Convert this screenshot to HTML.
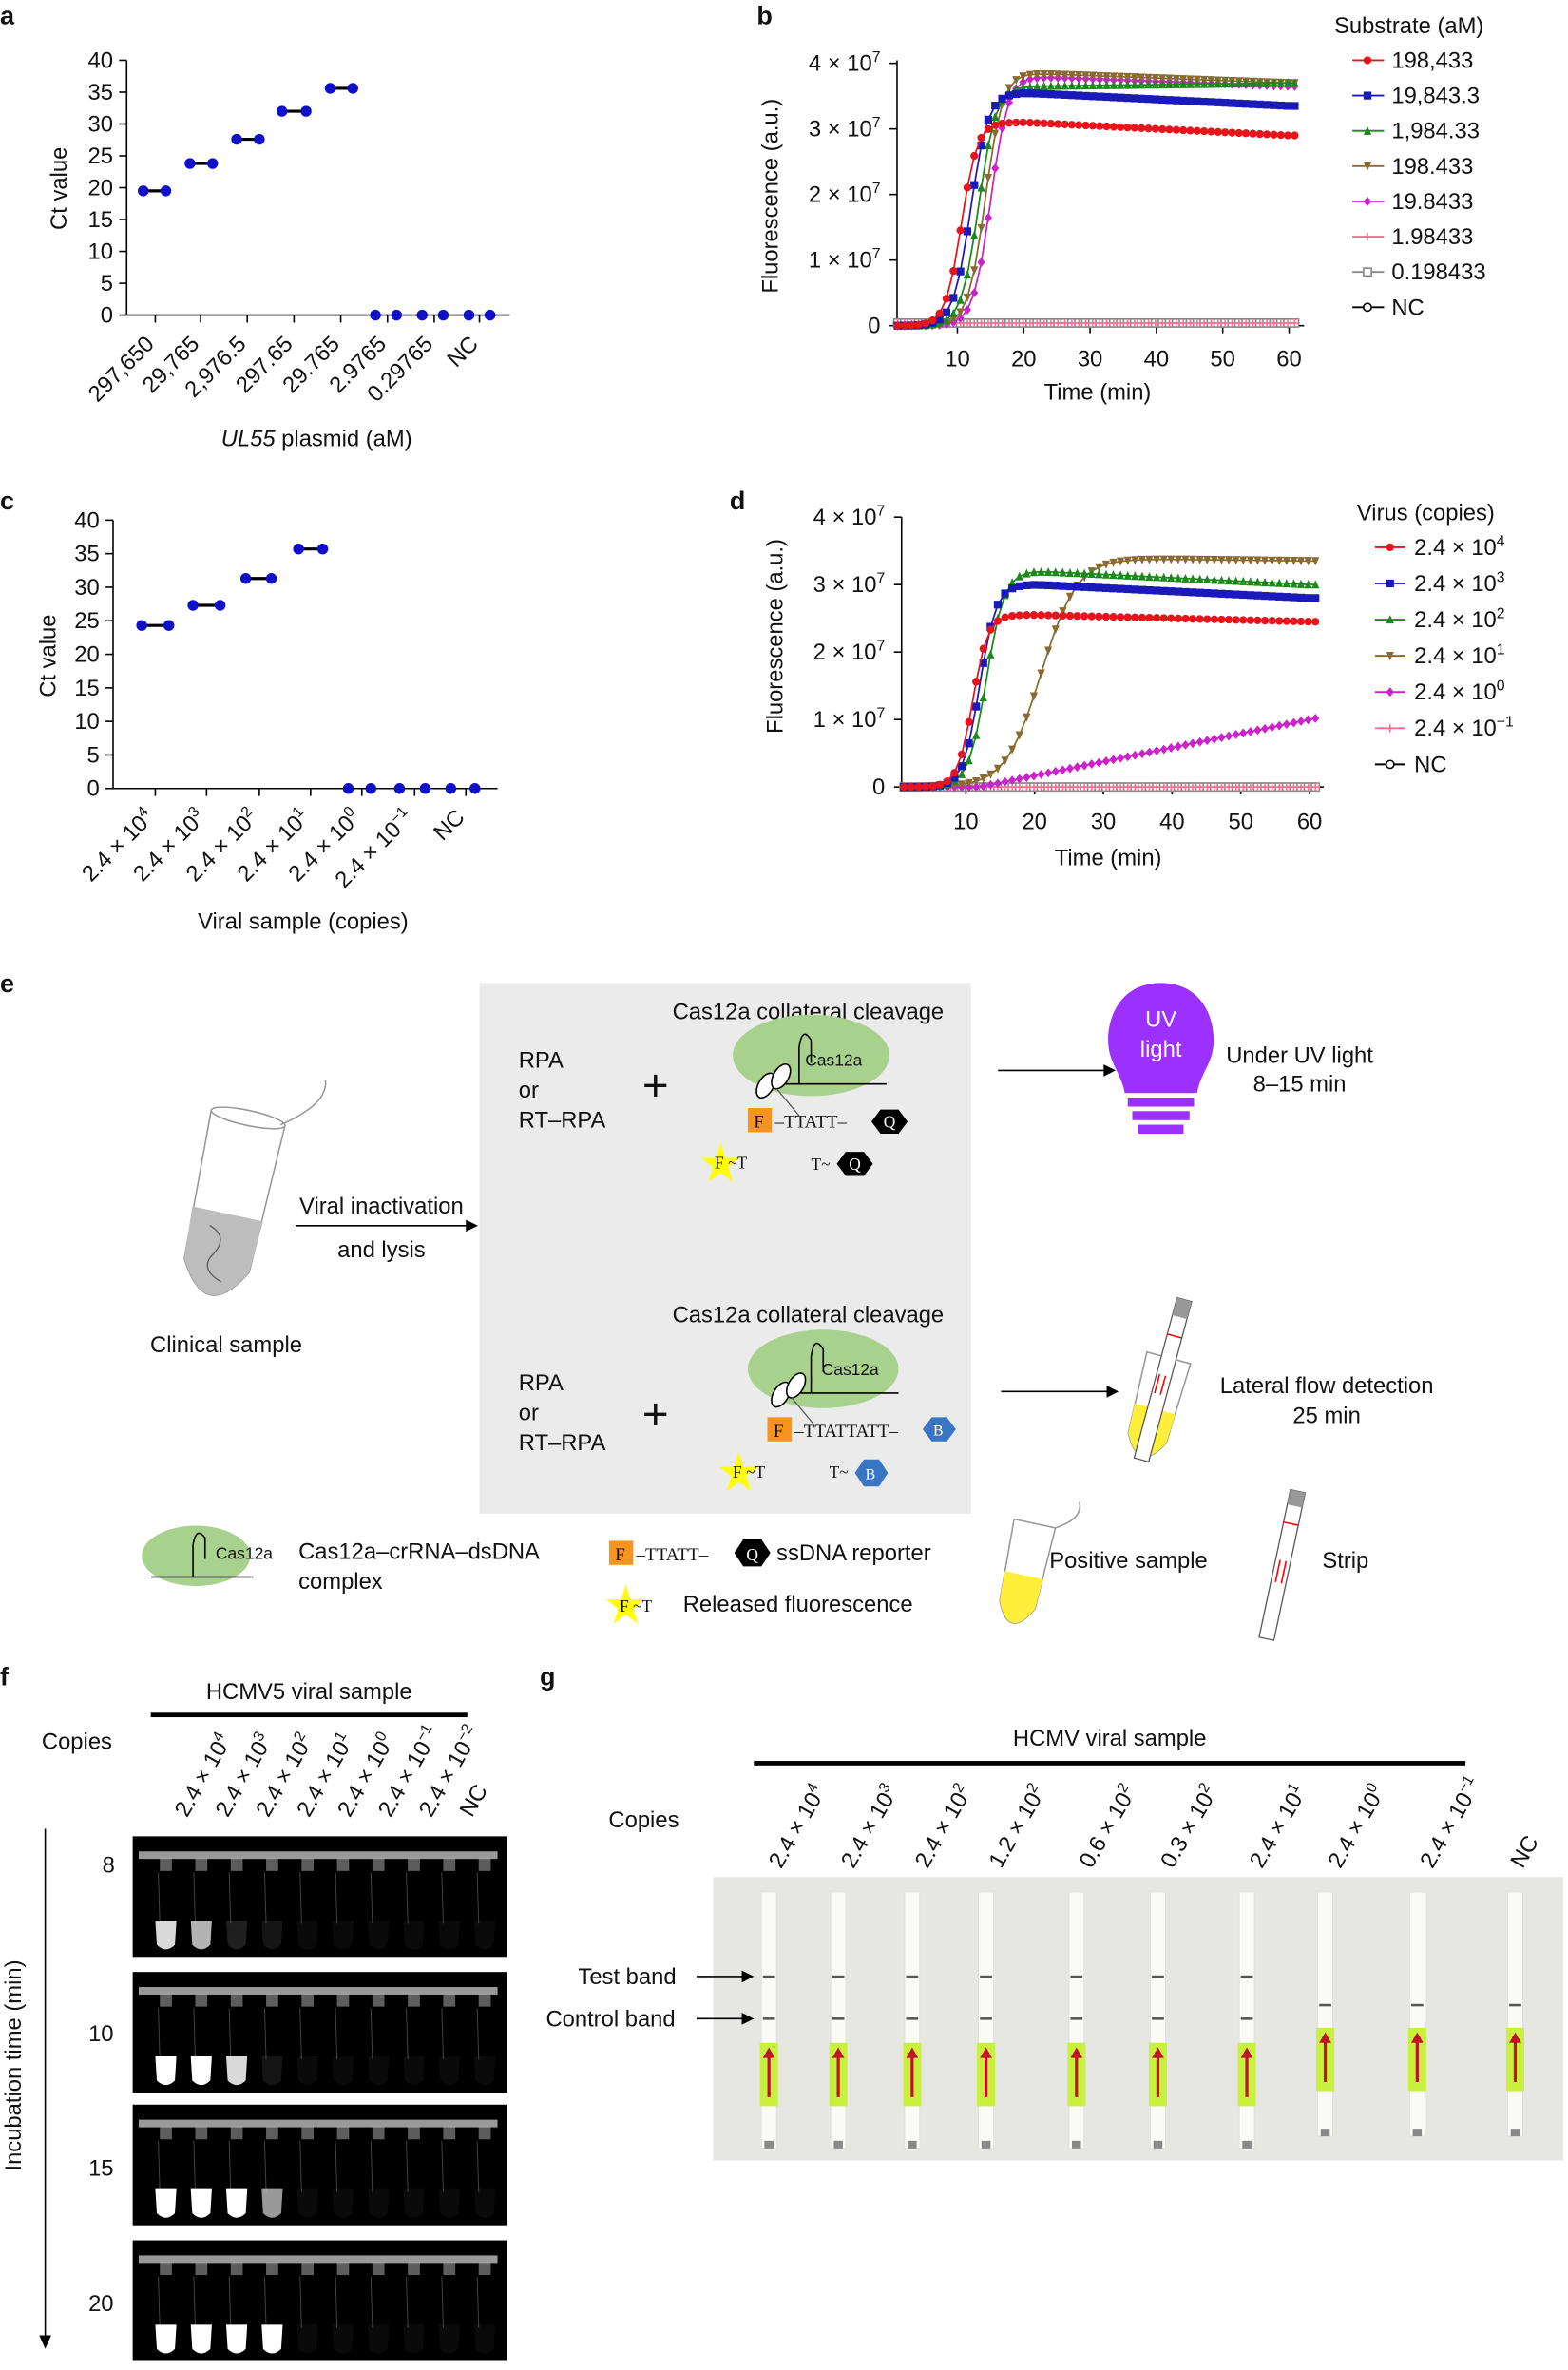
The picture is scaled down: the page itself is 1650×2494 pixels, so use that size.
<!DOCTYPE html>
<html><head><meta charset="utf-8"><style>
html,body{margin:0;padding:0;background:#fff;}
svg{display:block;font-family:"Liberation Sans",Arial,sans-serif;}
text{fill:#111;}
</style></head><body>
<svg id="s" width="1650" height="2494" viewBox="0 0 1040 1572" xmlns="http://www.w3.org/2000/svg">
<g font-size="15">
<text x="0" y="16" font-weight="bold" font-size="17">a</text>
<text x="502" y="16" font-weight="bold" font-size="17">b</text>
<text x="0" y="338" font-weight="bold" font-size="17">c</text>
<text x="484" y="338" font-weight="bold" font-size="17">d</text>
<text x="0" y="658" font-weight="bold" font-size="17">e</text>
<text x="0" y="1118" font-weight="bold" font-size="17">f</text>
<text x="358" y="1118" font-weight="bold" font-size="17">g</text>

<g stroke="#000" stroke-width="1">
<line x1="84" y1="40" x2="84" y2="209"/><line x1="84" y1="209" x2="338" y2="209"/>
</g>
<text x="44" y="125" text-anchor="middle" transform="rotate(-90 44 125)">Ct value</text>
<text x="210" y="296" text-anchor="middle"><tspan font-style="italic">UL55</tspan> plasmid (aM)</text>

<g stroke="#000" stroke-width="1">
<line x1="75" y1="345" x2="75" y2="523"/><line x1="75" y1="523" x2="330" y2="523"/>
</g>
<text x="37" y="435" text-anchor="middle" transform="rotate(-90 37 435)">Ct value</text>
<text x="201" y="616" text-anchor="middle">Viral sample (copies)</text>

<g stroke="#000" stroke-width="1">
<line x1="595" y1="40" x2="595" y2="216"/><line x1="595" y1="216" x2="865" y2="216"/>
</g>
<text x="516" y="130" text-anchor="middle" transform="rotate(-90 516 130)">Fluorescence (a.u.)</text>
<text x="728" y="265" text-anchor="middle">Time (min)</text>
<g stroke="#000" stroke-width="1">
<line x1="598" y1="343" x2="598" y2="522"/><line x1="598" y1="522" x2="878" y2="522"/>
</g>
<text x="519" y="422" text-anchor="middle" transform="rotate(-90 519 422)">Fluorescence (a.u.)</text>
<text x="735" y="574" text-anchor="middle">Time (min)</text>
<g id="dyn"></g>

<text x="885" y="22">Substrate (aM)</text>
<text x="900" y="345">Virus (copies)</text>

<rect x="318" y="652" width="326" height="352" fill="#ebebeb"/>
<text x="536" y="676" text-anchor="middle">Cas12a collateral cleavage</text>
<text x="536" y="877" text-anchor="middle">Cas12a collateral cleavage</text>
<text x="344" y="708">RPA</text><text x="344" y="728">or</text><text x="344" y="748">RT–RPA</text>
<text x="344" y="922">RPA</text><text x="344" y="942">or</text><text x="344" y="962">RT–RPA</text>
<text x="426" y="730" font-size="30">+</text>
<text x="426" y="948" font-size="30">+</text>
<g>
<ellipse cx="538" cy="700" rx="52" ry="27" fill="#a9d18e"/>
<line x1="508" y1="719" x2="588" y2="719" stroke="#000"/>
<path d="M530 719 V695 Q532 680 538 690 V705" fill="none" stroke="#000"/>
<text x="534" y="707" font-size="11">Cas12a</text>
<ellipse cx="508" cy="720" rx="5" ry="9" fill="#fff" stroke="#000" transform="rotate(30 508 720)"/>
<ellipse cx="518" cy="714" rx="5" ry="9" fill="#fff" stroke="#000" transform="rotate(30 518 714)"/>
<line x1="515" y1="722" x2="530" y2="740" stroke="#555" stroke-width="0.8"/>
<rect x="496" y="735" width="16" height="16" fill="#f7931e"/><text x="500" y="748" font-size="12" font-family="Liberation Serif">F</text>
<text x="514" y="748" font-size="12" font-family="Liberation Serif">–TTATT–</text>
<polygon points="584,736 596,736 602,744 596,752 584,752 578,744" fill="#000"/><text x="586" y="748" font-size="11" font-family="Liberation Serif" style="fill:#fff">Q</text>
<polygon points="478,758 481,768 491,768 483,774 486,784 478,778 470,784 473,774 465,768 475,768" fill="#ffff00"/>
<text x="474" y="775" font-size="11" font-family="Liberation Serif">F ~T</text>
<text x="538" y="776" font-size="11" font-family="Liberation Serif">T~</text>
<polygon points="561,764 573,764 579,772 573,780 561,780 555,772" fill="#000"/><text x="563" y="776" font-size="11" font-family="Liberation Serif" style="fill:#fff">Q</text>
</g>
<g>
<ellipse cx="546" cy="908" rx="50" ry="26" fill="#a9d18e"/>
<line x1="516" y1="924" x2="596" y2="924" stroke="#000"/>
<path d="M538 924 V900 Q540 885 546 895 V910" fill="none" stroke="#000"/>
<text x="545" y="912" font-size="11">Cas12a</text>
<ellipse cx="518" cy="925" rx="5" ry="9" fill="#fff" stroke="#000" transform="rotate(30 518 925)"/>
<ellipse cx="528" cy="919" rx="5" ry="9" fill="#fff" stroke="#000" transform="rotate(30 528 919)"/>
<line x1="525" y1="927" x2="540" y2="945" stroke="#555" stroke-width="0.8"/>
<rect x="509" y="940" width="16" height="16" fill="#f7931e"/><text x="513" y="953" font-size="12" font-family="Liberation Serif">F</text>
<text x="527" y="953" font-size="12" font-family="Liberation Serif">–TTATTATT–</text>
<polygon points="618,940 628,940 634,948 628,956 618,956 612,948" fill="#3a75c4"/><text x="619" y="952" font-size="10" font-family="Liberation Serif" style="fill:#fff">B</text>
<polygon points="490,963 493,973 503,973 495,979 498,989 490,983 482,989 485,979 477,973 487,973" fill="#ffff00"/>
<text x="486" y="980" font-size="11" font-family="Liberation Serif">F ~T</text>
<text x="550" y="980" font-size="11" font-family="Liberation Serif">T~</text>
<polygon points="573,968 583,968 589,977 583,986 573,986 567,977" fill="#3a75c4"/><text x="574" y="981" font-size="10" font-family="Liberation Serif" style="fill:#fff">B</text>
</g>
<g stroke="#000"><line x1="662" y1="710" x2="735" y2="710"/><line x1="664" y1="923" x2="737" y2="923"/><line x1="196" y1="813" x2="312" y2="813"/></g>
<polygon points="740,710 732,706 732,714" fill="#000"/><polygon points="742,923 734,919 734,927" fill="#000"/><polygon points="317,813 309,809 309,817" fill="#000"/>
<text x="253" y="805" text-anchor="middle">Viral inactivation</text>
<text x="253" y="834" text-anchor="middle">and lysis</text>
<path d="M770 652 C795 652 805 672 805 690 C805 705 796 712 794 725 L746 725 C744 712 735 705 735 690 C735 672 745 652 770 652Z" fill="#9b30ff"/>
<rect x="748" y="728" width="44" height="6" fill="#9b30ff"/><rect x="751" y="737" width="38" height="6" fill="#9b30ff"/><rect x="755" y="746" width="30" height="6" fill="#9b30ff"/>
<text x="770" y="681" text-anchor="middle" style="fill:#fff">UV</text><text x="770" y="701" text-anchor="middle" style="fill:#fff">light</text>
<text x="862" y="705" text-anchor="middle">Under UV light</text><text x="862" y="724" text-anchor="middle">8–15 min</text>
<text x="880" y="924" text-anchor="middle">Lateral flow detection</text><text x="880" y="944" text-anchor="middle">25 min</text>
<g transform="rotate(12 150 810)">
<path d="M125 740 L175 740 L172 840 Q150 880 128 840 Z" fill="#fff" stroke="#999"/>
<path d="M126 805 L174 805 L172 840 Q150 880 128 840 Z" fill="#bdbdbd"/>
<path d="M140 815 Q155 820 145 835 Q140 845 155 850" fill="none" stroke="#555" stroke-width="0.8"/>
<ellipse cx="150" cy="740" rx="25" ry="5" fill="#fff" stroke="#999"/>
<path d="M172 740 Q200 720 195 705" fill="none" stroke="#999"/>
</g>
<text x="150" y="897" text-anchor="middle">Clinical sample</text>
<g transform="rotate(15 770 920)">
<path d="M755 900 L785 900 L783 955 Q770 980 757 955 Z" fill="#fff" stroke="#999"/>
<path d="M756 935 L784 935 L783 955 Q770 980 757 955 Z" fill="#ffef3a"/>
<rect x="765" y="860" width="10" height="110" fill="#fff" stroke="#555" stroke-width="0.8"/>
<rect x="765" y="860" width="10" height="12" fill="#999"/>
<line x1="765" y1="885" x2="775" y2="885" stroke="red"/>
<line x1="767" y1="912" x2="767" y2="925" stroke="red"/><line x1="771" y1="912" x2="771" y2="925" stroke="red"/>
</g>
<ellipse cx="130" cy="1032" rx="36" ry="20" fill="#a9d18e"/>
<line x1="100" y1="1046" x2="168" y2="1046" stroke="#000"/>
<path d="M128 1046 V1025 Q130 1012 136 1020 V1034" fill="none" stroke="#000"/>
<text x="143" y="1034" font-size="11">Cas12a</text>
<text x="198" y="1034">Cas12a–crRNA–dsDNA</text><text x="198" y="1054">complex</text>
<rect x="404" y="1022" width="16" height="16" fill="#f7931e"/><text x="408" y="1035" font-size="12" font-family="Liberation Serif">F</text>
<text x="422" y="1035" font-size="12" font-family="Liberation Serif">–TTATT–</text>
<polygon points="493,1021 505,1021 511,1030 505,1039 493,1039 487,1030" fill="#000"/><text x="495" y="1035" font-size="11" font-family="Liberation Serif" style="fill:#fff">Q</text>
<text x="515" y="1035">ssDNA reporter</text>
<polygon points="415,1051 418,1061 428,1061 420,1067 423,1077 415,1071 407,1077 410,1067 402,1061 412,1061" fill="#ffff00"/>
<text x="411" y="1069" font-size="11" font-family="Liberation Serif">F ~T</text>
<text x="453" y="1069">Released fluorescence</text>
<g transform="rotate(12 680 1045)">
<path d="M665 1010 L693 1010 L691 1065 Q678 1090 667 1065 Z" fill="#fff" stroke="#999"/>
<path d="M666 1045 L692 1045 L691 1065 Q678 1090 667 1065 Z" fill="#ffef3a"/>
<path d="M693 1010 Q710 1000 705 990" fill="none" stroke="#999"/>
</g>
<text x="696" y="1040">Positive sample</text>
<g transform="rotate(12 850 1040)">
<rect x="845" y="988" width="10" height="100" fill="#fff" stroke="#555" stroke-width="0.8"/>
<rect x="845" y="988" width="10" height="10" fill="#999"/>
<line x1="845" y1="1010" x2="855" y2="1010" stroke="red"/>
<line x1="848" y1="1035" x2="848" y2="1050" stroke="red"/><line x1="852" y1="1035" x2="852" y2="1050" stroke="red"/>
</g>
<text x="877" y="1040">Strip</text>

<text x="205" y="1127" text-anchor="middle">HCMV5 viral sample</text>
<rect x="100" y="1136" width="210" height="3" fill="#000"/>
<text x="51" y="1160" text-anchor="middle">Copies</text>
<line x1="30" y1="1213" x2="30" y2="1552" stroke="#000"/><polygon points="30,1558 26,1549 34,1549" fill="#000"/>
<text x="14" y="1370" text-anchor="middle" transform="rotate(-90 14 1370)">Incubation time (min)</text>
<text x="72" y="1242" text-anchor="middle">8</text><text x="67" y="1354" text-anchor="middle">10</text>
<text x="67" y="1443" text-anchor="middle">15</text><text x="67" y="1533" text-anchor="middle">20</text>
<g id="gels"></g>

<text x="736" y="1158" text-anchor="middle">HCMV viral sample</text>
<rect x="500" y="1168" width="472" height="3" fill="#000"/>
<text x="427" y="1212" text-anchor="middle">Copies</text>
<rect x="473" y="1245" width="564" height="188" fill="#e6e6e3"/>
<g id="strips"></g>
<text x="416" y="1316" text-anchor="middle">Test band</text><text x="405" y="1344" text-anchor="middle">Control band</text>
<line x1="462" y1="1311" x2="495" y2="1311" stroke="#000"/><polygon points="500,1311 492,1307 492,1315" fill="#000"/>
<line x1="462" y1="1339" x2="495" y2="1339" stroke="#000"/><polygon points="500,1339 492,1335 492,1343" fill="#000"/>
<g id="rotlabels"></g>
</g>
</svg>
<script>
const NS="http://www.w3.org/2000/svg";
function el(p,tag,a,txt){const e=document.createElementNS(NS,tag);for(const k in a)e.setAttribute(k,a[k]);if(txt!==undefined)e.innerHTML=txt;p.appendChild(e);return e;}
const dyn=document.getElementById('dyn');
function yticks(x,y0,step,labels){labels.forEach((l,i)=>{const y=y0-i*step;el(dyn,'line',{x1:x-5,y1:y,x2:x,y2:y,stroke:'#000'});el(dyn,'text',{x:x-9,y:y+5,'text-anchor':'end','font-size':15},l);});}
yticks(84,209,21.125,['0','5','10','15','20','25','30','35','40']);
yticks(75,523,22.25,['0','5','10','15','20','25','30','35','40']);
function sci(n){return n==0?'0':n+' × 10<tspan dy="-6" font-size="10">7</tspan>';}
[0,1,2,3,4].forEach(i=>{let y=216-i*43.5;el(dyn,'line',{x1:590,y1:y,x2:595,y2:y,stroke:'#000'});el(dyn,'text',{x:584,y:y+5,'text-anchor':'end','font-size':15},sci(i));});
[0,1,2,3,4].forEach(i=>{let y=522-i*44.75;el(dyn,'line',{x1:593,y1:y,x2:598,y2:y,stroke:'#000'});el(dyn,'text',{x:587,y:y+5,'text-anchor':'end','font-size':15},sci(i));});
[10,20,30,40,50,60].forEach(t=>{let x=591+4.4*t;el(dyn,'line',{x1:x,y1:216,x2:x,y2:221,stroke:'#000'});el(dyn,'text',{x:x,y:243,'text-anchor':'middle','font-size':15},t);});
[10,20,30,40,50,60].forEach(t=>{let x=595+4.56*t;el(dyn,'line',{x1:x,y1:522,x2:x,y2:527,stroke:'#000'});el(dyn,'text',{x:x,y:550,'text-anchor':'middle','font-size':15},t);});
function cat(xs,y,labels){xs.forEach((x,i)=>{el(dyn,'line',{x1:x,y1:y,x2:x,y2:y+5,stroke:'#000'});el(dyn,'text',{x:x,y:y+20,'text-anchor':'end','font-size':15,transform:`rotate(-45 ${x} ${y+20})`},labels[i]);});}
cat([103,133,164,195,226,257,288,318],209,['297,650','29,765','2,976.5','297.65','29.765','2.9765','0.29765','NC']);
const sup=e=>`2.4 × 10<tspan dy="-6" font-size="10">${e}</tspan>`;
cat([103,137,172,206,240,275,309],523,[sup(4),sup(3),sup(2),sup(1),sup(0),sup('−1'),'NC']);
const blue='#1010c8';
function pair(x1,x2,y){el(dyn,'line',{x1,y1:y,x2,y2:y,stroke:'#000','stroke-width':2});[x1,x2].forEach(x=>el(dyn,'circle',{cx:x,cy:y,r:3.6,fill:blue}));}
[[95,110,19.5],[126,141,23.8],[157,172,27.6],[187,203,32],[219,234,35.6]].forEach(p=>pair(p[0],p[1],209-p[2]*4.225));
[249,263,280,294,311,325].forEach(x=>el(dyn,'circle',{cx:x,cy:209,r:3.6,fill:blue}));
[[94,112,24.3],[128,146,27.3],[163,180,31.3],[198,214,35.7]].forEach(p=>pair(p[0],p[1],523-p[2]*4.45));
[231,246,265,282,299,315].forEach(x=>el(dyn,'circle',{cx:x,cy:523,r:3.6,fill:blue}));
function mk(g,type,x,y,c){const r=2.6;
 if(type=='o')el(g,'circle',{cx:x,cy:y,r,fill:c});
 else if(type=='s')el(g,'rect',{x:x-r,y:y-r,width:2*r,height:2*r,fill:c});
 else if(type=='^')el(g,'polygon',{points:`${x},${y-r-0.5} ${x-r},${y+r} ${x+r},${y+r}`,fill:c});
 else if(type=='v')el(g,'polygon',{points:`${x},${y+r+0.5} ${x-r},${y-r} ${x+r},${y-r}`,fill:c});
 else if(type=='d')el(g,'polygon',{points:`${x},${y-r-0.5} ${x+r},${y} ${x},${y+r+0.5} ${x-r},${y}`,fill:c});
 else if(type=='+'){el(g,'line',{x1:x-r,y1:y,x2:x+r,y2:y,stroke:c});el(g,'line',{x1:x,y1:y-r,x2:x,y2:y+r,stroke:c});}
 else if(type=='S')el(g,'rect',{x:x-r,y:y-r,width:2*r,height:2*r,fill:'#fff',stroke:c});
 else if(type=='O')el(g,'circle',{cx:x,cy:y,r,fill:'#fff',stroke:c});}
const styles=[['o','#e8141c'],['s','#1a1ab8'],['^','#1a8a1a'],['v','#8a6a30'],['d','#cc22cc'],['+','#ff6f8f'],['S','#888'],['O','#000']];
function sig(t,mid,w,p0,p1){let p=p0+(p1-p0)*Math.min(1,Math.max(0,(t-20)/40));return p/(1+Math.exp(-(t-mid)/w));}
function plot(fns,x0,sx,y0,sy,tmax){[7,6,5,4,3,2,1,0].forEach(i=>{if(!fns[i])return;let pts=[];for(let t=1;t<=tmax;t+=1.05){pts.push([x0+sx*t,y0-sy*fns[i](t)]);}
 el(dyn,'polyline',{points:pts.map(p=>p.join(',')).join(' '),fill:'none',stroke:styles[i][1],'stroke-width':1.1});pts.forEach(p=>mk(dyn,styles[i][0],p[0],p[1],styles[i][1]));});}
const flat=()=>0.04;
plot([t=>sig(t,10.6,1.2,3.1,2.9),t=>sig(t,12,1.3,3.55,3.35),t=>sig(t,13.2,1.3,3.65,3.7),t=>sig(t,14.2,1.3,3.85,3.7),t=>sig(t,15,1.3,3.8,3.65),flat,flat,flat],591,4.4,216,43.5,61);
plot([t=>sig(t,11,1.1,2.55,2.45),t=>sig(t,12,1.2,3.0,2.8),t=>sig(t,13,1.3,3.2,3.0),t=>sig(t,21,2.6,3.4,3.35),t=>Math.max(0,(t-12)/48*1.0),()=>0,()=>0,()=>0],595,4.56,522,44.75,61);
const labB=['198,433','19,843.3','1,984.33','198.433','19.8433','1.98433','0.198433','NC'];
labB.forEach((l,i)=>{let y=40+i*23.4;el(dyn,'line',{x1:897,y1:y,x2:918,y2:y,stroke:styles[i][1],'stroke-width':1.2});mk(dyn,styles[i][0],907,y,styles[i][1]);el(dyn,'text',{x:923,y:y+5,'font-size':15},l);});
const labD=[sup(4),sup(3),sup(2),sup(1),sup(0),sup('−1'),'NC'];const sd=[0,1,2,3,4,5,7];
labD.forEach((l,i)=>{let y=363+i*24;const s=styles[sd[i]];el(dyn,'line',{x1:912,y1:y,x2:932,y2:y,stroke:s[1],'stroke-width':1.2});mk(dyn,s[0],922,y,s[1]);el(dyn,'text',{x:938,y:y+5,'font-size':15},l);});
const gels=document.getElementById('gels');
const ys=[1218,1308,1396,1486],bright=[[0.85,0.7,0.12,0.08],[1,1,0.85,0.08],[1,1,1,0.6],[1,1,1,1]];
ys.forEach((y,k)=>{el(gels,'rect',{x:88,y,width:248,height:80,fill:'#000'});
 el(gels,'rect',{x:92,y:y+10,width:238,height:5,fill:'#ccc',opacity:0.75});
 for(let i=0;i<10;i++){let x=110+i*23.5;el(gels,'rect',{x:x-4,y:y+14,width:8,height:9,fill:'#aaa',opacity:0.55});
  el(gels,'line',{x1:x-5,y1:y+24,x2:x-4,y2:y+58,stroke:'#444','stroke-width':0.6});
  let b=i<4?bright[k][i]:0.04;el(gels,'path',{d:`M${x-7} ${y+56} L${x+7} ${y+56} L${x+6} ${y+72} Q${x} ${y+78} ${x-6} ${y+72}Z`,fill:'#fff',opacity:b});}});
const fl=document.getElementById('rotlabels');
const fx=[124,151,178,205,232,259,286,313];
[sup(4),sup(3),sup(2),sup(1),sup(0),sup('−1'),sup('−2'),'NC'].forEach((l,i)=>{let x=fx[i],y=1206;el(fl,'text',{x,y,'font-size':15,transform:`rotate(-60 ${x} ${y})`},l);});
const gx=[518,566,615,664,724,778,837,889,950,1010];
const glab=[sup(4),sup(3),sup(2),'1.2 × 10<tspan dy="-6" font-size="10">2</tspan>','0.6 × 10<tspan dy="-6" font-size="10">2</tspan>','0.3 × 10<tspan dy="-6" font-size="10">2</tspan>',sup(1),sup(0),sup('−1'),'NC'];
glab.forEach((l,i)=>{let x=gx[i],y=1240;el(fl,'text',{x,y,'font-size':15,transform:`rotate(-60 ${x} ${y})`},l);});
const st=document.getElementById('strips');
const sx=[510,556,605,654,714,768,827,879,940,1005];
sx.forEach((x,i)=>{let late=i>=7;let top=1255,off=late?-8:0;
 el(st,'rect',{x:x-5,y:top,width:10,height:170+off,fill:'#fafaf7',stroke:'#ddd','stroke-width':0.5});
 if(!late)el(st,'line',{x1:x-4,y1:1311,x2:x+4,y2:1311,stroke:'#555','stroke-width':1.4});
 el(st,'line',{x1:x-4,y1:late?1330:1339,x2:x+4,y2:late?1330:1339,stroke:'#555','stroke-width':1.6});
 let py=late?1345:1355;el(st,'rect',{x:x-6,y:py,width:12,height:42,fill:'#c8f03c'});
 el(st,'line',{x1:x,y1:py+6,x2:x,y2:py+36,stroke:'#c0102a','stroke-width':2});
 el(st,'polygon',{points:`${x},${py+3} ${x-4},${py+10} ${x+4},${py+10}`,fill:'#c0102a'});
 el(st,'rect',{x:x-3,y:top+165+off,width:6,height:5,fill:'#888'});});
</script>
</body></html>
